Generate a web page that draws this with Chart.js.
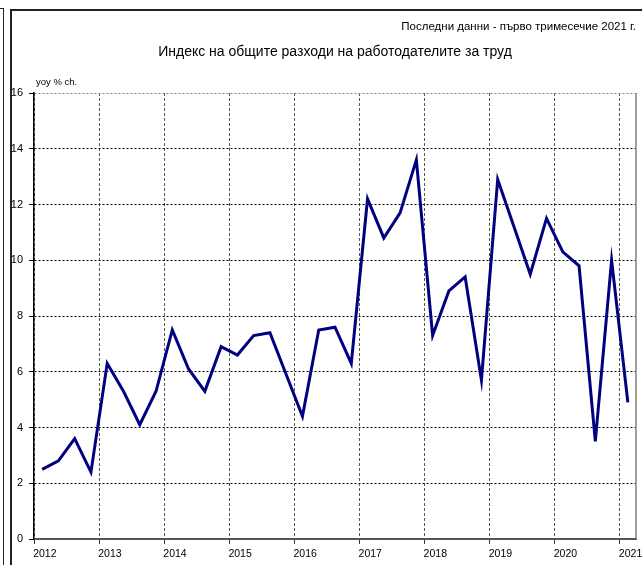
<!DOCTYPE html>
<html>
<head>
<meta charset="utf-8">
<script src="https://cdn.jsdelivr.net/npm/chart.js@4.4.0/dist/chart.umd.min.js"></script>
<style>
  html, body { margin: 0; padding: 0; background: #fff; overflow: hidden; }
  #wrap { position: relative; width: 642px; height: 565px; overflow: hidden; }
  .frame-outer { position: absolute; left: -100px; top: 8px; width: 102px; height: 600px; border: 1px solid #222; }
  .frame-inner { position: absolute; left: 10px; top: 9px; width: 700px; height: 600px; border: 2px solid #222; }
  canvas { position: absolute; left: 0; top: 0; }
</style>
</head>
<body>
<div id="wrap">
  <div class="frame-outer"></div>
  <div class="frame-inner"></div>
  <canvas id="laborCostChart" width="642" height="565"></canvas>
</div>
<script>
const FONT = "'Liberation Sans', Arial, sans-serif";

const quarters = [
  "I.2012", "II.2012", "III.2012", "IV.2012",
  "I.2013", "II.2013", "III.2013", "IV.2013",
  "I.2014", "II.2014", "III.2014", "IV.2014",
  "I.2015", "II.2015", "III.2015", "IV.2015",
  "I.2016", "II.2016", "III.2016", "IV.2016",
  "I.2017", "II.2017", "III.2017", "IV.2017",
  "I.2018", "II.2018", "III.2018", "IV.2018",
  "I.2019", "II.2019", "III.2019", "IV.2019",
  "I.2020", "II.2020", "III.2020", "IV.2020",
  "I.2021"
];

const laborCostIndex = [
  2.5, 2.8, 3.6, 2.4,
  6.3, 5.3, 4.1, 5.3,
  7.5, 6.1, 5.3, 6.9,
  6.6, 7.3, 7.4, 5.9,
  4.4, 7.5, 7.6, 6.3,
  12.2, 10.8, 11.7, 13.6,
  7.3, 8.9, 9.4, 5.7,
  12.9, 11.2, 9.5, 11.5,
  10.3, 9.8, 3.5, 10.0,
  4.9
];

const yearLabels = ["2012", "2013", "2014", "2015", "2016", "2017", "2018", "2019", "2020", "2021"];

const noteText = "Последни данни - първо тримесечие 2021 г.";
const titleText = "Индекс на общите разходи на работодателите за труд";
const unitLabel = "yoy % ch.";

// right border of the plot and the unit label above the y axis
const frameExtras = {
  id: "frameExtras",
  afterDraw(chart) {
    const { ctx, chartArea } = chart;
    ctx.save();
    ctx.strokeStyle = "#808080";
    ctx.lineWidth = 1.5;
    ctx.beginPath();
    ctx.moveTo(chartArea.right, chartArea.top);
    ctx.lineTo(chartArea.right, chartArea.bottom);
    ctx.stroke();
    ctx.fillStyle = "#000";
    ctx.font = "9.5px " + FONT;
    ctx.textAlign = "left";
    ctx.textBaseline = "middle";
    ctx.fillText(unitLabel, chartArea.left + 2, chartArea.top - 11);
    ctx.restore();
  },
};

const isYearStart = (ctx) => ctx.index !== undefined && ctx.index % 4 === 0;

new Chart(document.getElementById("laborCostChart"), {
  type: "line",
  data: {
    labels: quarters,
    datasets: [
      {
        label: titleText,
        data: laborCostIndex,
        borderColor: "#000080",
        backgroundColor: "#000080",
        borderWidth: 3,
        pointRadius: 0,
        tension: 0,
        fill: false,
      },
    ],
  },
  options: {
    responsive: false,
    animation: false,
    devicePixelRatio: 1,
    layout: {
      padding: { left: 0, right: 6, top: 0, bottom: 0 },
    },
    plugins: {
      legend: { display: false },
      tooltip: { enabled: false },
      title: {
        display: true,
        text: noteText,
        align: "end",
        color: "#000",
        font: { family: FONT, size: 11.5, weight: "normal" },
        padding: { top: 20, bottom: 4 },
      },
      subtitle: {
        display: true,
        fullSize: false, // centred over the plot area, not the whole canvas
        text: titleText,
        color: "#000",
        font: { family: FONT, size: 14, weight: "normal" },
        padding: { top: 6, bottom: 32.4 },
      },
    },
    scales: {
      x: {
        type: "category",
        offset: true,
        grid: {
          offset: true,
          color: (ctx) => (isYearStart(ctx) ? "#555" : "transparent"),
          tickColor: (ctx) => (isYearStart(ctx) ? "#333" : "transparent"),
          tickLength: 5,
          lineWidth: 1,
        },
        border: {
          display: true,
          color: "#555",
          width: 2,
          dash: [3, 2],
        },
        ticks: {
          autoSkip: false,
          maxRotation: 0,
          minRotation: 0,
          align: "start",
          labelOffset: -9,
          padding: 4,
          color: "#000",
          font: { family: FONT, size: 10.5 },
          callback: function (value, index) {
            return index % 4 === 0 ? yearLabels[index / 4] : "";
          },
        },
        afterFit: function (scale) {
          scale.paddingLeft = 0;
          scale.paddingRight = 0;
          scale.height = 26;
        },
      },
      y: {
        min: 0,
        max: 16,
        grid: {
          color: (ctx) => (ctx.tick && ctx.tick.value === 16 ? "#808080" : "#000"),
          tickColor: "#000",
          tickLength: 5,
          lineWidth: 1,
        },
        border: {
          display: true,
          color: "#000",
          width: 1.5,
          dash: [2, 2],
        },
        ticks: {
          stepSize: 2,
          padding: 6,
          color: "#000",
          font: { family: FONT, size: 11 },
        },
        afterFit: function (scale) {
          scale.width = 34;
        },
      },
    },
  },
  plugins: [frameExtras],
});
</script>
</body>
</html>
